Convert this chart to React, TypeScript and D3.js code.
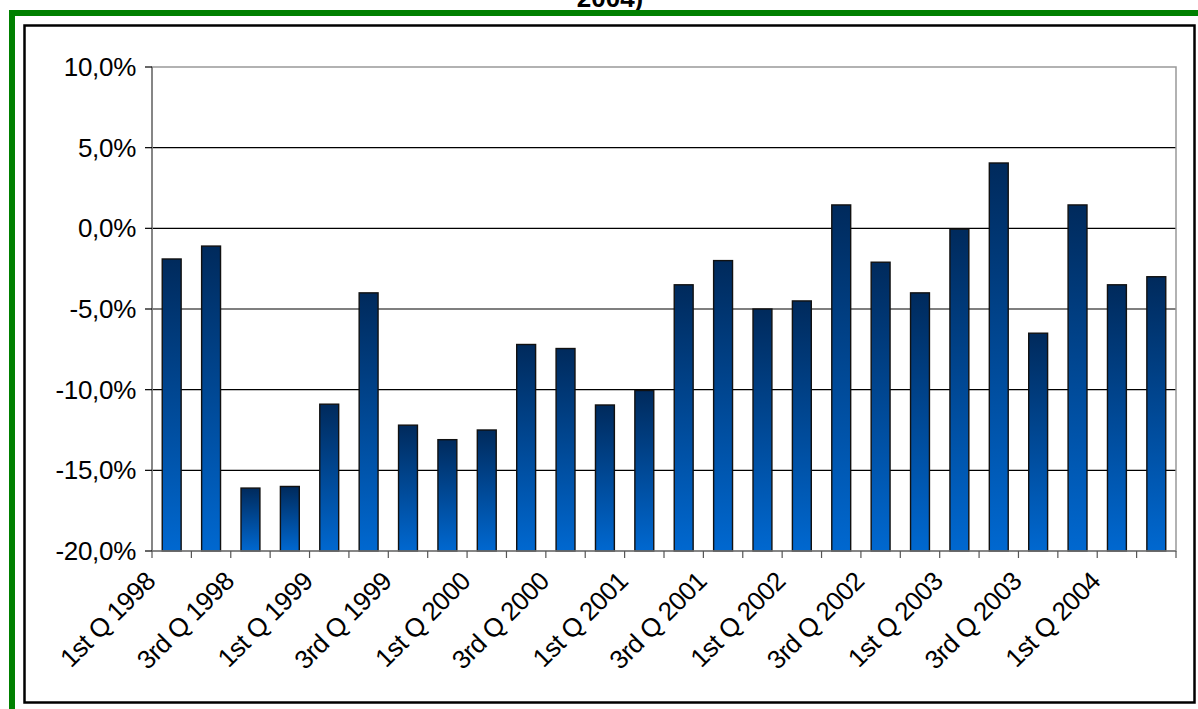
import React, { useRef, useEffect } from "react";
import * as d3 from "d3";

// quarterly change, in percent
const categories = [
  "1st Q 1998", "2nd Q 1998", "3rd Q 1998", "4th Q 1998",
  "1st Q 1999", "2nd Q 1999", "3rd Q 1999", "4th Q 1999",
  "1st Q 2000", "2nd Q 2000", "3rd Q 2000", "4th Q 2000",
  "1st Q 2001", "2nd Q 2001", "3rd Q 2001", "4th Q 2001",
  "1st Q 2002", "2nd Q 2002", "3rd Q 2002", "4th Q 2002",
  "1st Q 2003", "2nd Q 2003", "3rd Q 2003", "4th Q 2003",
  "1st Q 2004", "2nd Q 2004",
];

const values = [
  -1.9, -1.1, -16.1, -16.0,
  -10.9, -4.0, -12.2, -13.1,
  -12.5, -7.2, -7.45, -10.95,
  -10.05, -3.5, -2.0, -5.0,
  -4.5, 1.45, -2.1, -4.0,
  -0.05, 4.05, -6.5, 1.45,
  -3.5, -3.0,
];

const yTicks = [-20, -15, -10, -5, 0, 5, 10];
const titleText = "2004)";

const W = 1198;
const H = 709;

const fmt = d3
  .formatLocale({
    decimal: ",",
    thousands: ".",
    grouping: [3],
    currency: ["", ""],
    minus: "-",
  })
  .format(".1f");

const Chart: React.FC = () => {
  const svgRef = useRef<SVGSVGElement>(null);

  useEffect(() => {
    if (!svgRef.current) return;
    document.body.style.margin = "0";

    const svg = d3.select(svgRef.current);
    svg.selectAll("*").remove();

    const margin = { top: 67, right: 22, bottom: 158, left: 152 };
    const x0 = margin.left;
    const x1 = W - margin.right;
    const y0 = margin.top;
    const y1 = H - margin.bottom;

    const font = "'Liberation Sans', Arial, sans-serif";

    const x = d3
      .scaleBand<string>()
      .domain(categories)
      .range([x0, x1])
      .paddingInner(0.52)
      .paddingOuter(0.26);

    const y = d3.scaleLinear().domain([-20, 10]).range([y1, y0]);

    // gradient for the bars
    const defs = svg.append("defs");
    const grad = defs
      .append("linearGradient")
      .attr("id", "barGrad")
      .attr("x1", 0)
      .attr("y1", 0)
      .attr("x2", 0)
      .attr("y2", 1);
    grad.append("stop").attr("offset", "0%").attr("stop-color", "#002a5c");
    grad.append("stop").attr("offset", "55%").attr("stop-color", "#004c9c");
    grad.append("stop").attr("offset", "100%").attr("stop-color", "#0068d0");

    // title (only its last line is inside the picture)
    svg
      .append("text")
      .attr("x", 610)
      .attr("y", 7)
      .attr("text-anchor", "middle")
      .attr("font-family", font)
      .attr("font-weight", "bold")
      .attr("font-size", 26)
      .text(titleText);

    // green outer frame, open at right and bottom
    svg
      .append("path")
      .attr("d", `M12,${H + 5} L12,13 L${W + 5},13`)
      .attr("fill", "none")
      .attr("stroke", "#008000")
      .attr("stroke-width", 6);

    // chart frame
    svg
      .append("rect")
      .attr("x", 24.5)
      .attr("y", 25.5)
      .attr("width", 1170)
      .attr("height", 677)
      .attr("fill", "#fff")
      .attr("stroke", "#000")
      .attr("stroke-width", 2.5);

    // grid lines
    svg
      .append("g")
      .selectAll("line")
      .data(yTicks.filter((t) => t > -20 && t < 10))
      .join("line")
      .attr("x1", x0)
      .attr("x2", x1)
      .attr("y1", (d) => y(d))
      .attr("y2", (d) => y(d))
      .attr("stroke", "#000")
      .attr("stroke-width", 1.2);

    // plot area border
    svg
      .append("rect")
      .attr("x", x0)
      .attr("y", y0)
      .attr("width", x1 - x0)
      .attr("height", y1 - y0)
      .attr("fill", "none")
      .attr("stroke", "#999")
      .attr("stroke-width", 1.5);

    // bars
    svg
      .append("g")
      .selectAll("rect")
      .data(values)
      .join("rect")
      .attr("x", (_, i) => x(categories[i])!)
      .attr("y", (d) => y(d))
      .attr("width", x.bandwidth())
      .attr("height", (d) => y(-20) - y(d))
      .attr("fill", "url(#barGrad)")
      .attr("stroke", "#111")
      .attr("stroke-width", 1.4);

    // y axis
    const yAxis = svg.append("g");
    yAxis
      .append("line")
      .attr("x1", x0)
      .attr("x2", x0)
      .attr("y1", y0)
      .attr("y2", y1)
      .attr("stroke", "#777")
      .attr("stroke-width", 1.5);
    yAxis
      .selectAll("line.tick")
      .data(yTicks)
      .join("line")
      .attr("class", "tick")
      .attr("x1", x0 - 7)
      .attr("x2", x0)
      .attr("y1", (d) => y(d))
      .attr("y2", (d) => y(d))
      .attr("stroke", "#000")
      .attr("stroke-width", 1.2);
    yAxis
      .selectAll("text")
      .data(yTicks)
      .join("text")
      .attr("x", x0 - 16)
      .attr("y", (d) => y(d))
      .attr("dy", "0.35em")
      .attr("text-anchor", "end")
      .attr("font-family", font)
      .attr("font-size", 26)
      .attr("letter-spacing", -0.3)
      .text((d) => fmt(d) + "%");

    // x axis
    const step = x.step();
    const xAxis = svg.append("g");
    xAxis
      .append("line")
      .attr("x1", x0)
      .attr("x2", x1)
      .attr("y1", y1)
      .attr("y2", y1)
      .attr("stroke", "#777")
      .attr("stroke-width", 1.5);
    xAxis
      .selectAll("line.tick")
      .data(d3.range(categories.length + 1))
      .join("line")
      .attr("class", "tick")
      .attr("x1", (i) => x0 + i * step)
      .attr("x2", (i) => x0 + i * step)
      .attr("y1", y1)
      .attr("y2", y1 + 7)
      .attr("stroke", "#555")
      .attr("stroke-width", 1.2);
    xAxis
      .selectAll("text")
      .data(categories.filter((_, i) => i % 2 === 0))
      .join("text")
      .attr(
        "transform",
        (d) => `translate(${x(d)! + x.bandwidth() / 2 - 15},${y1 + 32}) rotate(-45)`
      )
      .attr("text-anchor", "end")
      .attr("font-family", font)
      .attr("font-size", 26)
      .attr("letter-spacing", -0.6)
      .text((d) => d);
  }, []);

  return (
    <svg
      ref={svgRef}
      width={W}
      height={H}
      style={{ position: "absolute", left: 0, top: 0, background: "#fff" }}
    />
  );
};

export default function App() {
  return <Chart />;
}
